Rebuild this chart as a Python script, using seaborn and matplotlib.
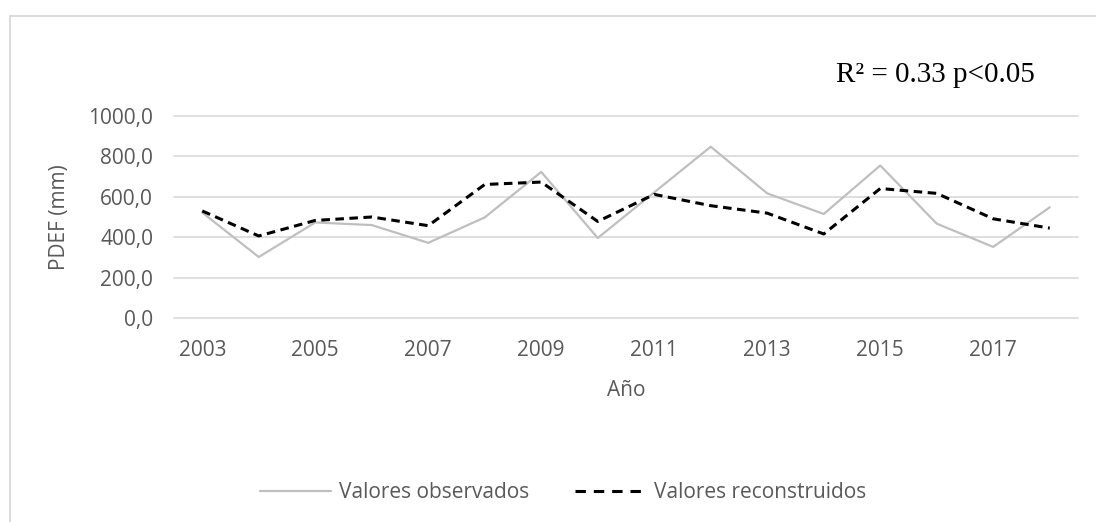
import pandas as pd
import matplotlib.pyplot as plt
import seaborn as sns
from matplotlib.lines import Line2D

# Data
years = list(range(2003, 2019))
observados = [522, 302, 473, 460, 372, 498, 723, 396, 622, 848, 617, 515, 755, 467, 352, 548]
reconstruidos = [530, 406, 483, 500, 457, 661, 673, 478, 612, 556, 519, 416, 641, 617, 491, 445]
year_ticks = [2003, 2005, 2007, 2009, 2011, 2013, 2015, 2017]
y_ticks = [0, 200, 400, 600, 800, 1000]

df = pd.DataFrame({"Año": years, "obs": observados, "rec": reconstruidos})

sns.set_style("white")
plt.rcParams["font.family"] = ["Open Sans", "DejaVu Sans"]
text_col = "#595959"
grid_col = "#D9D9D9"
fs = 15

fig = plt.figure(figsize=(10.96, 5.22), dpi=100)
ax = fig.add_axes([174 / 1096, 204 / 522, 904 / 1096, 202 / 522])

# Series
sns.lineplot(data=df, x="Año", y="obs", ax=ax, color="#BFBFBF", linewidth=1.6,
             label="Valores observados", legend=False, clip_on=False)
sns.lineplot(data=df, x="Año", y="rec", ax=ax, color="black", linewidth=2.2,
             label="Valores reconstruidos", legend=False, clip_on=False)
ax.lines[1].set_dashes((2.8, 1.8))

ax.set_xlim(2002.5, 2018.5)
ax.set_ylim(0, 1000)
ax.set_xticks(year_ticks)
ax.set_yticks(y_ticks)
ax.set_yticklabels([f"{v:.1f}".replace(".", ",") for v in y_ticks])

for y in y_ticks:
    ax.axhline(y, color=grid_col, linewidth=1.2, zorder=0, clip_on=False)

sns.despine(ax=ax, left=True, bottom=True)
ax.tick_params(axis="both", length=0, labelsize=fs, colors=text_col)
ax.tick_params(axis="x", pad=16)
ax.tick_params(axis="y", pad=15)

ax.set_xlabel("Año", fontsize=fs, color=text_col)
ax.set_ylabel("PDEF (mm)", fontsize=fs, color=text_col)
ax.xaxis.set_label_coords(0.5, -0.305)
ax.yaxis.set_label_coords(-0.115, 0.5)

# Annotation
fig.text(836 / 1096, 1 - 82 / 522, "R² = 0.33 p<0.05", fontsize=21,
         family=["Liberation Serif", "DejaVu Serif"], color="black",
         ha="left", va="baseline")

# Legend
handles = [Line2D([], [], color="#BFBFBF", linewidth=1.6),
           Line2D([], [], color="black", linewidth=2.2, dashes=(3.4, 2.6))]
leg = fig.legend(handles, ["Valores observados", "Valores reconstruidos"],
                 loc="center", bbox_to_anchor=(563 / 1096, 1 - 493 / 522),
                 ncol=2, frameon=False, fontsize=fs, handlelength=3.4,
                 handletextpad=0.4, columnspacing=2.2)
for t in leg.get_texts():
    t.set_color(text_col)

# Chart area border (top and left edges visible)
fig.add_artist(Line2D([10 / 1096, 1.0], [1 - 16 / 522, 1 - 16 / 522],
                      color=grid_col, linewidth=1.3))
fig.add_artist(Line2D([10 / 1096, 10 / 1096], [0.0, 1 - 16 / 522],
                      color=grid_col, linewidth=1.3))

fig.savefig("out.png", dpi=100)
